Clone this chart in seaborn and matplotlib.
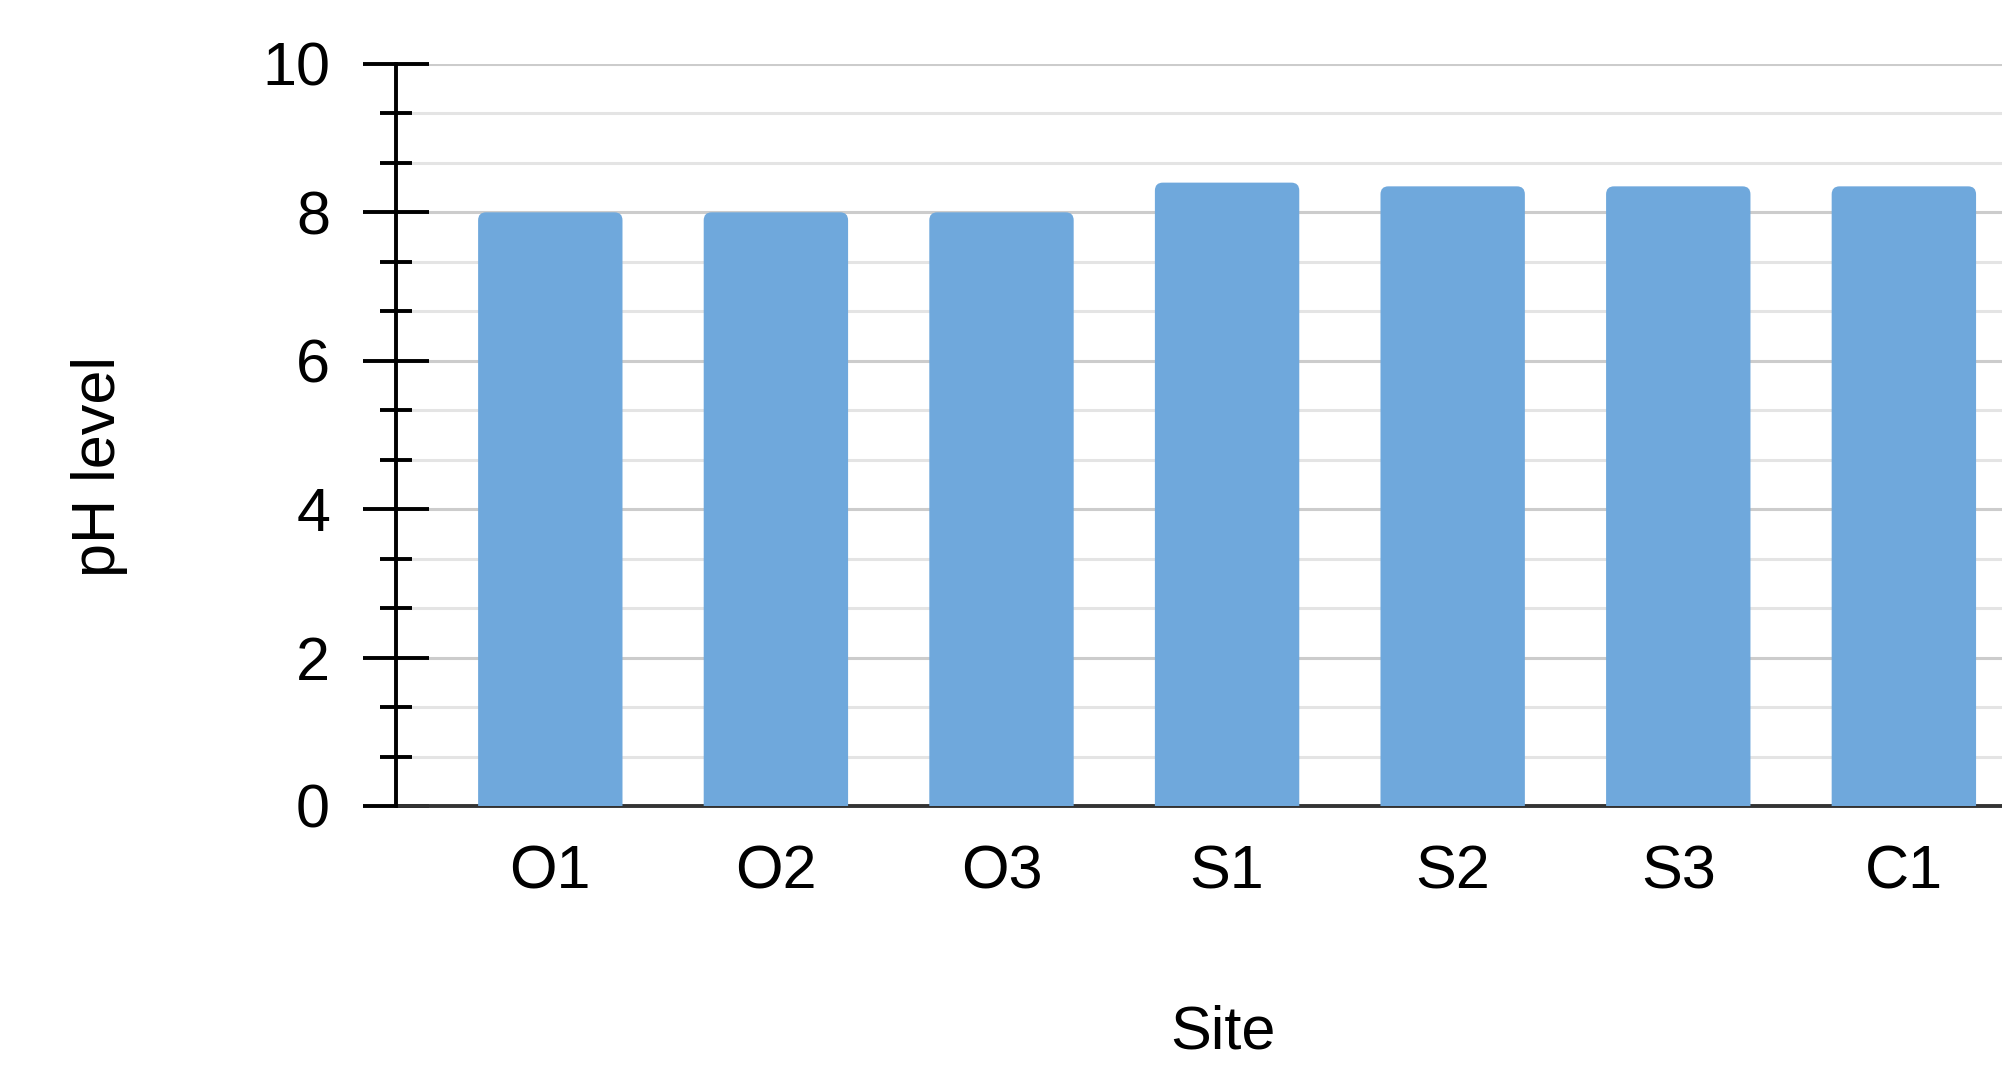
import matplotlib
matplotlib.use("Agg")
import matplotlib.pyplot as plt
import seaborn as sns
import pandas as pd
from matplotlib.ticker import MultipleLocator
from matplotlib.patches import FancyBboxPatch

# data
sites = ["O1", "O2", "O3", "S1", "S2", "S3", "C1"]
ph_levels = [8.0, 8.0, 8.0, 8.4, 8.35, 8.35, 8.35]

BAR_COLOR = "#6FA8DC"

sns.set_theme(style="white")
plt.rcParams["font.family"] = ["Liberation Sans", "DejaVu Sans"]
plt.rcParams["text.color"] = "black"
plt.rcParams["axes.labelcolor"] = "black"
plt.rcParams["xtick.color"] = "black"
plt.rcParams["ytick.color"] = "black"

df = pd.DataFrame({"Site": sites, "pH level": ph_levels})

fig = plt.figure(figsize=(20.02, 10.65), dpi=100)
ax = fig.add_axes([0.1978, 0.2432, 0.8022, 0.6968])

sns.barplot(data=df, x="Site", y="pH level", color=BAR_COLOR, saturation=1,
            width=0.64, ax=ax, zorder=3)

ax.set_ylim(0, 10)
ax.set_xlim(-0.684, 6.435)

# swap the plain rectangles for ones with rounded top corners
r = 0.035
aspect = 3.08
for p in list(ax.patches):
    x, w, h = p.get_x(), p.get_width(), p.get_height()
    p.remove()
    ax.add_patch(FancyBboxPatch((x, -0.3), w, h + 0.3,
                                boxstyle=f"round,pad=0,rounding_size={r}",
                                mutation_aspect=aspect, facecolor=BAR_COLOR,
                                edgecolor="none", zorder=3))

# gridlines
ax.yaxis.set_major_locator(MultipleLocator(2))
ax.yaxis.set_minor_locator(MultipleLocator(2 / 3))
ax.grid(which="major", axis="y", color="#cccccc", linewidth=2.2, zorder=0)
ax.grid(which="minor", axis="y", color="#e4e4e4", linewidth=2.2, zorder=0)
ax.grid(which="major", axis="x", visible=False)
ax.set_axisbelow(True)

# spines
for side in ["top", "right"]:
    ax.spines[side].set_visible(False)
ax.spines["left"].set_color("black")
ax.spines["left"].set_linewidth(2.8)
ax.spines["left"].set_zorder(4)
ax.spines["bottom"].set_color("#333333")
ax.spines["bottom"].set_linewidth(2.8)
ax.spines["bottom"].set_zorder(2)

ax.tick_params(axis="y", which="major", direction="inout", length=47, width=2.8,
               color="black", labelcolor="black", labelsize=44, pad=24, left=True)
ax.tick_params(axis="y", which="minor", direction="inout", length=23, width=2.8,
               color="black", left=True)
ax.tick_params(axis="x", which="both", length=0, labelsize=44, pad=28,
               labelcolor="black")

ax.set_xlabel("Site", fontsize=44, labelpad=74)
ax.xaxis.label.set_x(0.515)
ax.set_ylabel("pH level", fontsize=44)
ax.yaxis.set_label_coords(-0.167, 0.458)

fig.savefig("out.png", dpi=100, facecolor="white")
